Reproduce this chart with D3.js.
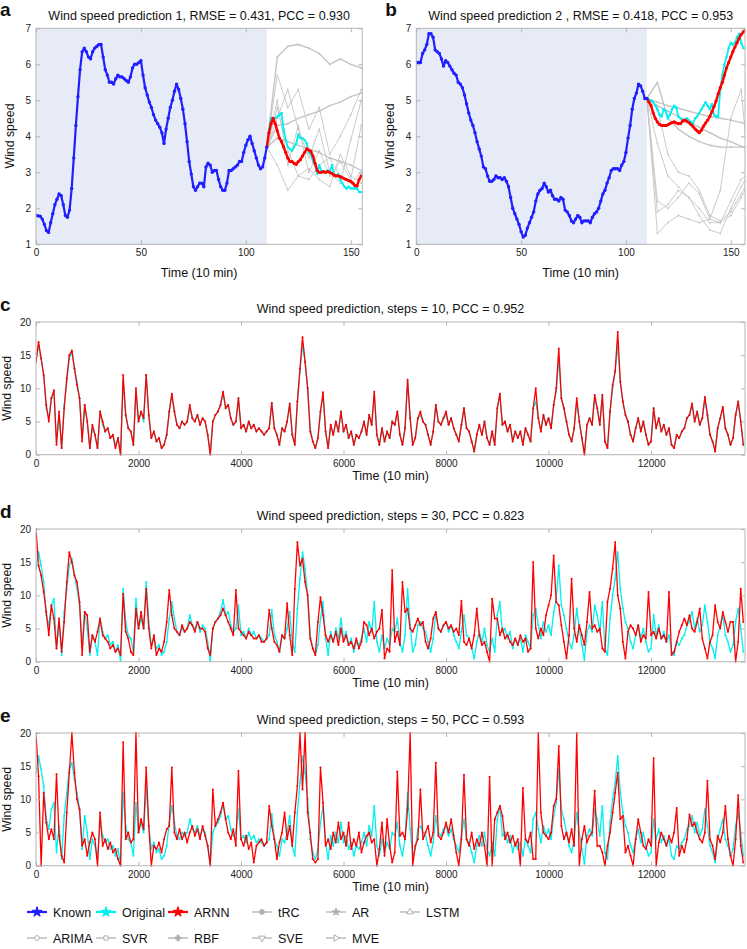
<!DOCTYPE html>
<html><head><meta charset="utf-8">
<script src="https://cdn.jsdelivr.net/npm/d3@7"></script>
<style>body{margin:0;background:#fff}</style>
</head><body><svg id="chart" width="747" height="949"></svg>
<script>
// ---------- Panel a data ----------
const aKnown = [1.80,1.79,1.78,1.70,1.55,1.38,1.33,1.60,1.85,2.10,
2.25,2.40,2.35,2.10,1.80,1.75,1.95,2.55,3.40,4.30,
5.10,5.85,6.35,6.45,6.35,6.20,6.15,6.35,6.45,6.50,
6.55,6.55,6.20,5.85,5.70,5.50,5.50,5.45,5.60,5.70,
5.65,5.65,5.60,5.55,5.50,5.65,5.90,6.00,6.00,6.05,
6.10,5.70,5.35,5.15,4.95,4.80,4.60,4.45,4.35,4.25,
4.10,3.80,4.20,4.50,4.80,5.00,5.25,5.45,5.30,5.05,
4.75,4.35,3.85,3.30,2.95,2.60,2.50,2.60,2.70,2.70,
2.60,3.15,3.25,3.20,3.00,3.05,3.05,2.80,2.60,2.50,
2.50,2.70,3.05,3.05,3.10,3.15,3.20,3.30,3.30,3.55,
3.75,3.90,4.00,3.80,3.60,3.40,3.20,3.10,3.15,3.40,3.70];
const aOriginal = [3.70,4.20,4.50,4.50,4.50,4.55,4.60,4.65,4.20,3.90,
3.70,3.65,3.60,3.70,3.80,4.05,3.95,3.95,3.90,3.80,
3.55,3.50,3.30,3.20,2.95,3.20,3.05,3.00,3.00,3.05,
3.00,3.20,2.95,2.90,2.95,2.80,2.70,2.60,2.55,2.60,
2.55,2.55,2.55,2.55,2.45,2.45];
const aARNN = [3.70,4.10,4.35,4.50,4.35,4.15,3.95,3.85,3.70,3.55,
3.40,3.30,3.30,3.25,3.22,3.30,3.35,3.45,3.55,3.65,
3.62,3.58,3.45,3.25,3.05,3.00,3.00,3.02,3.00,3.02,
3.00,2.97,2.92,2.90,2.90,2.88,2.85,2.82,2.80,2.77,
2.75,2.70,2.63,2.62,2.80,2.90];
const aGrayT = [110,115,120,125,130,135,140,145,150,155];
const aTRC   = [3.7,6.2,6.5,6.55,6.45,6.3,6.0,6.15,6.0,5.9];
const aAR    = [3.7,4.3,4.35,4.5,4.6,4.7,4.85,4.95,5.1,5.2];
const aLSTM  = [3.7,3.95,3.85,3.75,3.65,3.55,3.4,3.3,3.2,3.05];
const aARIMA = [3.7,5.7,4.8,5.3,4.2,4.8,3.5,4.0,4.6,5.3];
const aSVR   = [3.7,5.0,3.2,4.3,3.0,3.6,2.9,3.3,2.8,4.3];
const aRBF   = [3.7,3.2,2.5,2.9,3.1,2.8,2.6,3.5,2.9,2.7];
const aSVE   = [3.7,4.5,5.3,4.2,3.4,4.2,3.0,2.7,3.9,5.0];
const aMVE   = [3.7,4.8,3.6,2.9,2.8,3.2,3.4,2.9,2.7,3.0];

// ---------- Panel b data ----------
const bKnown = [6.05,6.05,6.05,6.30,6.40,6.55,6.85,6.85,6.75,6.40,
6.35,6.30,6.15,5.95,6.10,6.05,5.95,5.85,5.75,5.70,
5.50,5.45,5.35,5.15,4.90,4.65,4.45,4.30,4.10,3.85,
3.65,3.45,3.15,3.10,2.90,2.75,2.75,2.80,2.90,2.85,
2.85,2.80,2.85,2.75,2.60,2.30,2.00,1.85,1.70,1.55,
1.35,1.20,1.25,1.45,1.60,1.75,1.90,2.20,2.40,2.50,
2.55,2.70,2.60,2.45,2.50,2.35,2.25,2.25,2.20,2.30,
2.25,1.95,1.90,1.80,1.65,1.60,1.70,1.80,1.75,1.60,
1.65,1.65,1.65,1.60,1.75,1.85,1.90,2.00,2.20,2.40,
2.50,2.70,2.85,3.05,3.10,3.10,3.10,3.05,3.20,3.30,
3.55,3.95,4.30,4.75,5.05,5.20,5.45,5.40,5.25,5.05,5.05];
const bOriginal = [5.05,5.00,5.00,4.95,4.85,4.75,4.60,4.55,4.75,4.70,
4.50,4.60,4.75,4.85,4.80,4.55,4.50,4.45,4.45,4.50,
4.45,4.40,4.35,4.50,4.55,4.65,4.75,4.85,4.95,4.85,
4.75,4.90,4.60,4.55,4.55,5.30,5.70,6.00,6.20,6.45,
6.60,6.55,6.60,6.75,6.85,6.60,6.45,6.45];
const bARNN = [5.05,4.95,4.85,4.65,4.50,4.40,4.33,4.30,4.30,4.30,
4.32,4.35,4.38,4.40,4.37,4.35,4.35,4.42,4.45,4.42,
4.38,4.33,4.27,4.20,4.15,4.10,4.17,4.28,4.37,4.45,
4.55,4.68,4.82,4.98,5.18,5.35,5.50,5.70,5.90,6.05,
6.20,6.35,6.48,6.60,6.72,6.83,6.90,6.95];
const bGrayT = [110,115,120,125,130,135,140,145,150,155,157];
const bTRC   = [5.05,4.95,4.85,4.78,4.7,4.62,4.55,4.5,4.45,4.38,4.35];
const bAR    = [5.05,4.85,4.7,4.55,4.4,4.25,4.1,3.95,3.85,3.72,3.7];
const bLSTM  = [5.05,5.5,4.5,4.2,4.0,3.85,3.75,3.7,3.7,3.7,3.7];
const bARIMA = [5.05,4.8,3.5,3.0,2.9,2.5,1.8,1.65,1.9,2.4,2.6];
const bSVR   = [5.05,3.8,2.9,2.6,2.3,1.8,1.4,1.3,2.0,2.6,2.8];
const bRBF   = [5.05,1.9,2.1,2.5,2.3,2.0,1.6,1.6,2.2,2.8,2.9];
const bSVE   = [5.05,1.3,1.6,1.8,1.7,1.6,1.7,2.5,4.5,5.3,4.0];
const bMVE   = [5.05,2.2,2.0,2.3,2.7,2.4,1.7,1.6,1.8,2.3,2.5];

// ---------- Panels c, d, e data (sampled every 50 time steps) ----------
const longStep = 50;
const longOriginal = [
14,16.5,14.5,12,7,5.5,8.5,9.5,2,6,1,7.5,11,14.5,15.5,13,11,8.5,2.5,7.5,
5,1,4,3,1,6.5,4.5,3.5,4,2.5,3,1.5,2.5,0.2,11,6,4,3.5,1.5,9.5,
5,6.5,5,12,6,2.5,3.5,2,2.5,1,1.5,3,6.5,9,6.5,4.5,4,5,4.5,5,
7,5.5,5,6,4.5,5.5,5,3,0.2,5,6,6.5,7.5,9.3,7,7.5,5.5,4.5,5,8.5,
4,4.5,3.5,5,4,4.5,3.5,4,3.5,3,3.5,4,7.8,4,3,1.5,4,3.5,5,7.5,
3,1.5,8,12.5,16.5,14,10,4,2,1,2.5,6.5,9,3.5,1,4.5,3,5,3.5,6.5,
3.5,4.5,2.5,3.5,1.5,3,2.5,3.5,5,3,6,4.5,9,3,1.5,4,2,3.5,2.5,5,
4.5,6.5,3,1.5,4,11,5.5,1.5,2.5,5.5,6,5,4.5,3,1.5,3.5,7.5,5,4.5,5.5,
6,4.5,5.5,4,3,2,4.5,7,4,3.5,2,0.5,3,4.5,3,5,2.5,1.5,3.5,1.5,
7,9,4.5,5,3.5,4.5,2,3.5,2.5,3.5,1.5,4,3,2,7,8,5.5,3.5,6,4.5,
5.5,4,7.5,9.5,14.5,8.5,7,5,3,2,4,8,5,2.5,0.3,4.5,5.5,4.5,8.5,7,
4.5,9,2,1,6.5,10,12.5,16.5,11,8,6,5,3,2,4,5.5,3.5,5,3,1.5,
2,7,4,5.5,3.5,4.5,3,4,1.5,1,3,2.5,3.5,4,5.5,6,7.5,5,6.5,4.5,
5.5,8.5,6,3,2,0.5,4,5.5,7,4,3,1.5,2.5,6,8,5,1.5];
const arnnSteps10 = [
14,17,14.5,12,7.5,5,8.5,9.7,1.5,6.5,1,7,11.5,15,15.7,13,10.5,8.5,2,7.5,
5,1,4.5,3,1,6.5,5,3.5,4,2.5,3,1,2.5,0,12,6,4,3.5,1.5,10,
5,6.5,5.5,12,6,2.5,3.5,2,2.5,1,1.5,3,6.5,9.2,6.5,4.5,4,5,4.5,5,
7.5,5.5,5,6,4.5,5.5,5,3,0,5,6,6.5,7.5,9.5,7,7.5,5.5,4.5,5,8.5,
4,4.5,3.5,5,4,4.5,3.5,4,3.5,3,3.5,4,7.8,4,3,1.5,4,3.5,5,7.7,
3,1.5,8,13,17.7,14,10,3.5,2,1,2.5,6.5,9.4,3.5,1,4.5,3,5,3.5,6.5,
3.5,4.5,2.5,3.5,1.5,3,2.5,3.5,5,3,6,4.5,9.5,3,1.5,4,2,3.5,2.5,5,
4.5,6.5,3,1.5,4,11.3,5.5,1.5,2.5,5.5,6.5,5,4.5,3,1.5,3.5,7.5,5,4.5,5.5,
6.5,4.5,5.5,4,3,2,4.5,7,4,3.5,2,0.5,3,4.5,3,5,2.5,1.5,3.5,1.5,
7,9.2,4.5,5,3.5,4.5,2,3.5,2.5,3.5,1.5,4,3,2,7,10,5.5,3.5,6,4.5,
5.5,4,7.5,10,16,8.5,7,5,3,2,4,8.5,5,2.5,0,4.5,5.5,4.5,9,7,
4.5,9,2,1,6.5,10.5,12.6,18.5,11,8,6,5,3,2,4,5.5,3.5,5,3,1.5,
2,7,4,5.5,3.5,4.5,3,4,1.5,1,3,2.5,3.5,4,5.5,6,7.7,5,6.5,4.5,
5.5,8.7,6,3,2,0.5,4,5.5,7.2,4,3,1.5,2.5,6,8,5,1.5];
const arnnSteps30 = [
20,14.5,13,10.5,7.5,4,8.5,6.5,2,6.5,1.5,6,12,16.5,15,13,12,9,1,7.5,
7,1.5,4,3,4.5,6.5,4,3.5,3,2,2.5,1.5,2,1,10.2,4.5,3.5,1.5,1,8,
5,7.5,5,11,5,2,4,1,2,1.5,3,6,10.8,7,5,4.5,4,5.5,4.5,5,
6,5.5,4.5,6,5,5,4.5,2,1,5,6,6.5,7,8,7,6,5,4,10.8,5,
4.5,4,3.5,4.5,4,3.5,3.5,4,3,3,3.5,7.8,5,3,2.5,1.5,4,3.5,8.8,4,
1,11,18,14.5,15.5,12,10,3.5,2,1,6,9.7,7,4,3,4,3,4.5,2.5,5,
3,4,2.5,3,2,3.5,2,3,6,5.5,4,5,3.5,4.5,5,7.8,0.5,2,1.5,13.8,
3,4.5,2.5,12,7.5,8,5,4.5,5.5,6.5,5.5,6,3,2,3.5,6.5,7.5,5,4.5,5.5,
6,5,5.5,4.5,5,4,9.2,3,2.5,3.5,2,4,8,4,2.5,3,1.5,0,9.5,6.5,
6.5,4,5,3.5,4,3,2.5,3.5,2.5,4,3,3.5,1.5,2,15,5,3.5,5,4,7,
8.5,10,16,9,8.5,5.5,3,0.5,4,12.5,5,3,5.5,4,2.5,6,10.5,5,5.5,4.5,
5,2,1.5,9,11,14,18,10,8,3,0.5,4.5,5.5,5,4,5.5,3,4,3.5,10.5,
4,4.5,3.5,5,3.5,4,3,10.5,1,1.5,3,4.5,5.5,6.5,5.5,7,5,4.5,6,8,
3.5,2,0.5,3,4,8.5,6,5,7.5,6,4.5,6,6,0,3,11,6];
const arnnSteps50 = [
20,13.5,0,11,6.5,4,5.5,4,13.8,4.5,1.5,0.5,8,14,20,14,10,8.5,3,4,
1.5,3.5,5,4,0,8,3,4,2.5,3.5,2,2.5,1,0,18.6,4,5,3.5,4,20,
5,7,5.5,14.8,6,0,3,2.5,3.5,2,4,5.5,6,14.8,5,4,5.5,4,5,3.5,
5,6,4.5,5.5,4,6,4.5,3,0,11.5,6,7,8,9.5,7,5,4,5.5,3,14.3,
4,3,4.5,2.5,3.5,0.5,3,3.5,4,3,3.5,9,6,4,1,3.5,5,8,4,6,
3,8,12,20,11.5,20,8,5,1,0.5,1,14.8,9.5,3,4,2.5,5,3.5,6.5,4,
5,3,6.5,2.5,4,3,5,2,3.5,4.5,5,3.5,4,0,2.5,6.5,1.5,7,3,0.5,
2,14.2,4.5,5,4,8.5,20,0,3,4,11.5,4,5,6,3.5,5,15.5,4.5,4,5,
6.5,5,7,4.5,2,0,4,13.7,4,3,5,2.5,4,3,5,3,0,13.4,0,7,
8,9,7.5,4,5,3.5,4.5,3,4,0,11.7,4,3.5,5,1,1,20,8,5,4.5,
4,5,9,10,18,6,4,5,3.5,5.5,3,20,0,4,6,3.5,4.5,5,11.3,3,
3,2,0,3,5,8,11,14,7,7.5,2,3,1.5,0,4,7,5,3,2.5,4,
3,16.2,0,3.5,5,4,3,4.5,3.5,5,8.7,1.5,3,2,4,7.7,6,6.5,5,4,
3.5,5,12.8,4,3,1,4.5,3.5,5,9,4,1.5,0,4,10.6,3,0.5];

// tick labels
const abXTicks = [0,50,100,150];
const abYTicks = [1,2,3,4,5,6,7];
const longXTicks = [0,2000,4000,6000,8000,10000,12000];
const longYTicks = [0,5,10,15,20];

const legendRow1 = ['Known','Original','ARNN','tRC','AR','LSTM'];
const legendRow2 = ['ARIMA','SVR','RBF','SVE','MVE'];

// ---------- drawing ----------
const FONT = '"Liberation Sans", Arial, Helvetica, sans-serif';
const svg = d3.select('#chart');
const C_KNOWN = '#1f1fff', C_ORIG = '#00f0f0', C_ARNN = '#ff0000', C_GRAY = '#c4c4c4';
const AXC = '#b5b5b5';
const fmt = d3.format('d');
let clipId = 0;

function frame(x, y, xTicks, yTicks) {
  const [x0, x1] = x.range(), [yb, yt] = y.range();
  const g = svg.append('g');
  const ax = (gen, tx, ty) => {
    const a = g.append('g').attr('transform', `translate(${tx},${ty})`).call(gen);
    a.select('.domain').remove();
    a.selectAll('line').attr('stroke', AXC);
    a.selectAll('text').attr('font-size', 10).attr('fill', '#222').attr('font-family', FONT);
  };
  ax(d3.axisBottom(x).tickValues(xTicks).tickFormat(fmt).tickSizeInner(-4).tickSizeOuter(0).tickPadding(5), 0, yb);
  ax(d3.axisTop(x).tickValues(xTicks).tickSizeInner(-4).tickSizeOuter(0).tickFormat(''), 0, yt);
  ax(d3.axisLeft(y).tickValues(yTicks).tickFormat(fmt).tickSizeInner(-4).tickSizeOuter(0).tickPadding(5), x0, 0);
  ax(d3.axisRight(y).tickValues(yTicks).tickSizeInner(-4).tickSizeOuter(0).tickFormat(''), x1, 0);
  g.append('rect').attr('x', x0).attr('y', yt).attr('width', x1 - x0).attr('height', yb - yt)
    .attr('fill', 'none').attr('stroke', AXC).attr('stroke-width', 1);
}
function clipGroup(x, y) {
  const [x0, x1] = x.range(), [yb, yt] = y.range();
  const id = 'clip' + (clipId++);
  svg.append('clipPath').attr('id', id).append('rect')
    .attr('x', x0).attr('y', yt - 1).attr('width', x1 - x0).attr('height', yb - yt + 2);
  return svg.append('g').attr('clip-path', `url(#${id})`);
}
function text(x, y, s, size, opts = {}) {
  const t = svg.append('text').attr('x', x).attr('y', y).text(s)
    .attr('font-family', FONT).attr('font-size', size).attr('fill', opts.fill || '#111')
    .attr('text-anchor', opts.anchor || 'middle');
  if (opts.bold) t.attr('font-weight', 'bold');
  if (opts.rotate) t.attr('transform', `rotate(-90,${x},${y})`);
  return t;
}
function series(g, x, y, ts, vs, color, width, r) {
  const pts = vs.map((v, i) => [ts(i), v]);
  g.append('path').datum(pts)
    .attr('d', d3.line().x(d => x(d[0])).y(d => y(d[1])))
    .attr('fill', 'none').attr('stroke', color).attr('stroke-width', width)
    .attr('stroke-linejoin', 'round');
  if (r > 0) g.append('g').selectAll('circle').data(pts).join('circle')
    .attr('cx', d => x(d[0])).attr('cy', d => y(d[1])).attr('r', r).attr('fill', color);
}

function shortPanel(letter, title, x0, x1, xmax, known, orig, arnn, grayT, grays) {
  const x = d3.scaleLinear().domain([0, xmax]).range([x0, x1]);
  const y = d3.scaleLinear().domain([1, 7]).range([244.3, 28.3]);
  svg.append('rect').attr('x', x(0)).attr('y', 28.3).attr('width', x(110) - x(0)).attr('height', 216)
    .attr('fill', '#e7ebf8');
  const g = clipGroup(x, y);
  grays.forEach((gs, k) => {
    series(g, x, y, i => grayT[i], gs, C_GRAY, k < 3 ? 1.4 : 0.9, 0.9);
  });
  series(g, x, y, i => 110 + i, orig, C_ORIG, 1.8, 1.2);
  series(g, x, y, i => 110 + i, arnn, C_ARNN, 2.4, 1.6);
  series(g, x, y, i => i, known, C_KNOWN, 2.2, 1.7);
  frame(x, y, abXTicks, abYTicks);
  text((x0 + x1) / 2, 20, title, 12.5);
  text((x0 + x1) / 2, 277, 'Time (10 min)', 12.5);
  text(x0 - 22, 136, 'Wind speed', 12.3, { rotate: true });
  text(x0 - 36 + (letter === 'b' ? 5 : 0), 16, letter, 19, { bold: true, anchor: 'start' });
}

shortPanel('a', 'Wind speed prediction 1, RMSE = 0.431, PCC = 0.930', 36, 362.3, 155.5,
  aKnown, aOriginal, aARNN, aGrayT, [aAR, aLSTM, aTRC, aARIMA, aSVR, aRBF, aSVE, aMVE]);
shortPanel('b', 'Wind speed prediction 2 , RMSE = 0.418, PCC = 0.953', 416.3, 745, 156.8,
  bKnown, bOriginal, bARNN, bGrayT, [bTRC, bAR, bLSTM, bARIMA, bSVR, bRBF, bSVE, bMVE]);

function longPanel(letter, title, top, arnn) {
  const bottom = top + 132.7;
  const x = d3.scaleLinear().domain([0, 13833]).range([36, 745]);
  const y = d3.scaleLinear().domain([0, 20]).range([bottom, top]);
  const g = clipGroup(x, y);
  series(g, x, y, i => i * longStep, longOriginal, C_ORIG, 1.3, 1.0);
  series(g, x, y, i => i * longStep, arnn, C_ARNN, 1.3, 1.0);
  frame(x, y, longXTicks, longYTicks);
  text(390.5, top - 9, title, 12.5);
  text(390.5, bottom + 25, 'Time (10 min)', 12.5);
  text(11, (top + bottom) / 2, 'Wind speed', 12.3, { rotate: true });
  text(0, top - 11, letter, 19, { bold: true, anchor: 'start' });
}
longPanel('c', 'Wind speed prediction, steps = 10, PCC = 0.952', 322, arnnSteps10);
longPanel('d', 'Wind speed prediction, steps = 30, PCC = 0.823', 529, arnnSteps30);
longPanel('e', 'Wind speed prediction, steps = 50, PCC = 0.593', 733, arnnSteps50);

// ---------- legend ----------
const legendColors = { Known: C_KNOWN, Original: C_ORIG, ARNN: C_ARNN };
const legendMarker = { Known: 'star', Original: 'star', ARNN: 'star', tRC: 'dot', AR: 'star', LSTM: 'tri',
  ARIMA: 'circle', SVR: 'square', RBF: 'plus', SVE: 'triDown', MVE: 'triRight' };
const legendX = [27, 96, 168, 252, 326, 400];
function legendItem(name, lx, ly) {
  const col = legendColors[name] || '#b0b0b0';
  const main = !!legendColors[name];
  svg.append('line').attr('x1', lx).attr('x2', lx + 20).attr('y1', ly).attr('y2', ly)
    .attr('stroke', col).attr('stroke-width', main ? 2.2 : 1.3);
  const cx = lx + 10, m = legendMarker[name];
  const symMap = { star: d3.symbolStar, dot: d3.symbolCircle, tri: d3.symbolTriangle, circle: d3.symbolCircle,
    square: d3.symbolSquare, plus: d3.symbolCross, triDown: d3.symbolTriangle, triRight: d3.symbolTriangle };
  const rot = m === 'triDown' ? 180 : m === 'triRight' ? 90 : 0;
  const open = ['tri', 'circle', 'square', 'triDown', 'triRight'].includes(m);
  svg.append('path').attr('d', d3.symbol(symMap[m], main ? 32 : 18)())
    .attr('transform', `translate(${cx},${ly}) rotate(${rot})`)
    .attr('fill', open ? '#fff' : col).attr('stroke', col).attr('stroke-width', 1);
  text(lx + 26, ly + 4.5, name, 12.5, { anchor: 'start' });
}
legendRow1.forEach((n, i) => legendItem(n, legendX[i], 912));
legendRow2.forEach((n, i) => legendItem(n, legendX[i], 938));
</script>
</body></html>
